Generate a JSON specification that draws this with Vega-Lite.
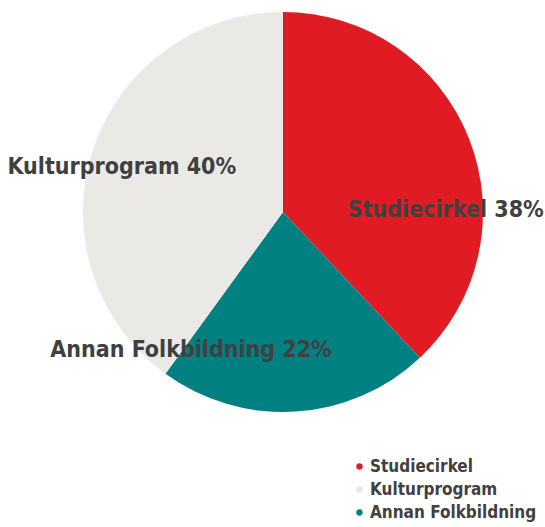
{
  "$schema": "https://vega.github.io/schema/vega-lite/v6.json",
  "width": 524,
  "height": 424,
  "autosize": {"type": "none"},
  "padding": {"left": 21, "top": 0, "right": 0, "bottom": 103},
  "background": "white",
  "config": {"view": {"stroke": null}, "font": "'DejaVu Sans Condensed', Roboto, sans-serif"},
  "data": {
    "values": [
      {"cat": "Studiecirkel", "value": 38, "ord": 1, "label": "Studiecirkel 38%"},
      {"cat": "Annan Folkbildning", "value": 22, "ord": 2, "label": "Annan Folkbildning 22%"},
      {"cat": "Kulturprogram", "value": 40, "ord": 3, "label": "Kulturprogram 40%"}
    ]
  },
  "encoding": {
    "theta": {"field": "value", "type": "quantitative", "stack": true},
    "order": {"field": "ord", "type": "quantitative"}
  },
  "layer": [
    {
      "mark": {"type": "arc", "outerRadius": 200},
      "encoding": {
        "color": {
          "field": "cat",
          "type": "nominal",
          "scale": {
            "domain": ["Studiecirkel", "Kulturprogram", "Annan Folkbildning"],
            "range": ["#e01b24", "#ebe9e6", "#008080"]
          },
          "legend": {
            "title": null,
            "orient": "none",
            "legendX": 330,
            "legendY": 458,
            "symbolType": "circle",
            "symbolSize": 40,
            "labelFont": "'DejaVu Sans Condensed', Roboto, sans-serif",
            "labelFontWeight": "bold",
            "labelFontSize": 17,
            "labelLimit": 300,
            "labelColor": "#404040",
            "rowPadding": 5,
            "labelOffset": 2
          }
        }
      }
    },
    {
      "mark": {"type": "text", "radius": 160, "dx": 14, "dy": 57, "fontSize": 23, "fontWeight": "bold", "color": "#404040", "font": "'DejaVu Sans Condensed', Roboto, sans-serif"},
      "encoding": {"text": {"condition": {"test": "datum.cat === 'Studiecirkel'", "field": "label"}, "value": ""}}
    },
    {
      "mark": {"type": "text", "radius": 160, "dx": -102, "dy": -22, "fontSize": 23, "fontWeight": "bold", "color": "#404040", "font": "'DejaVu Sans Condensed', Roboto, sans-serif"},
      "encoding": {"text": {"condition": {"test": "datum.cat === 'Annan Folkbildning'", "field": "label"}, "value": ""}}
    },
    {
      "mark": {"type": "text", "radius": 160, "dx": -9, "dy": 4, "fontSize": 23, "fontWeight": "bold", "color": "#404040", "font": "'DejaVu Sans Condensed', Roboto, sans-serif"},
      "encoding": {"text": {"condition": {"test": "datum.cat === 'Kulturprogram'", "field": "label"}, "value": ""}}
    }
  ]
}
